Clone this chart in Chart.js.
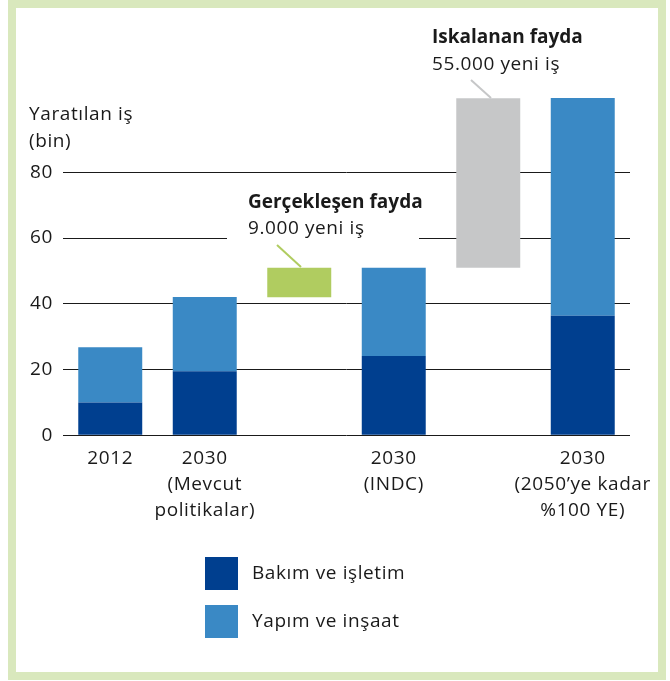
<!DOCTYPE html>
<html>
<head>
<meta charset="utf-8">
<script src="https://cdn.jsdelivr.net/npm/chart.js@4.4.1/dist/chart.umd.min.js"></script>
<style>
  html, body { margin: 0; padding: 0; background: #ffffff; }
  #wrap { width: 670px; height: 681px; position: relative; }
  canvas { display: block; }
</style>
</head>
<body>
<div id="wrap"><canvas id="c" width="670" height="681"></canvas></div>
<script>
// ---- Data ----
const categories = [
  '2012',
  ['2030', '(Mevcut', 'politikalar)'],
  '',
  ['2030', '(INDC)'],
  '',
  ['2030', '(2050\u2019ye kadar', '%100 YE)']
];
const maintenance  = [10, 19.5, null, 24.1, null, 36.4];   // Bakım ve işletim
const construction = [16.8, 22.6, null, 26.9, null, 66.2]; // Yapım ve inşaat
const benefitLow   = [null, null, 42, null, 51, null];     // floating bars: start
const benefitHigh  = [null, null, 51, null, 102.5, null];  // floating bars: end
const yTicks = [0, 20, 40, 60, 80];
const seriesNames = ['Bakım ve işletim', 'Yapım ve inşaat'];
const yTitle = ['Yaratılan iş', '(bin)'];
const annRealised = ['Gerçekleşen fayda', '9.000 yeni iş'];
const annMissed = ['Iskalanan fayda', '55.000 yeni iş'];

// ---- derived floating data ----
const darkData = maintenance.map(v => v == null ? null : [0, v]);
const lightData = maintenance.map((v, i) => v == null ? null : [v, v + construction[i]]);
const floatData = benefitLow.map((v, i) => v == null ? null : [v, benefitHigh[i]]);

const C_DARK = '#003f8f';
const C_LIGHT = '#3a89c5';
const C_GREEN = '#b0cc60';
const C_GRAY = '#c6c7c8';
const C_FRAME = '#d9e8bd';
const C_TEXT = '#1a1a1a';
const FONT = '"Open Sans", sans-serif';
const LS = '0.6px';

const decor = {
  id: 'decor',
  beforeInit(chart) { chart.ctx.letterSpacing = LS; },
  beforeDraw(chart) {
    const ctx = chart.ctx;
    ctx.letterSpacing = LS;
    ctx.save();
    ctx.fillStyle = '#ffffff';
    ctx.fillRect(0, 0, chart.width, chart.height);
    ctx.fillStyle = C_FRAME;
    ctx.fillRect(8, 0, 658, 680);
    ctx.fillStyle = '#ffffff';
    ctx.fillRect(16, 8, 642, 664);
    ctx.restore();
  },
  beforeDatasetsDraw(chart) {
    // gap in the 60 gridline behind the "Gerçekleşen fayda" note
    const ctx = chart.ctx;
    const y = chart.scales.y.getPixelForValue(60);
    ctx.save();
    ctx.fillStyle = '#ffffff';
    ctx.fillRect(227, y - 2, 192, 4);
    ctx.restore();
  },
  afterDatasetsDraw(chart) {
    const ctx = chart.ctx;
    ctx.save();
    ctx.fillStyle = C_TEXT;
    ctx.textBaseline = 'alphabetic';
    ctx.textAlign = 'left';
    // y title
    ctx.letterSpacing = LS;
    ctx.font = '19px ' + FONT;
    ctx.fillText(yTitle[0], 29, 120);
    ctx.fillText(yTitle[1], 29, 147);
    // annotations
    ctx.letterSpacing = '0px';
    ctx.font = 'bold 19px ' + FONT;
    ctx.fillText(annRealised[0], 248, 208);
    ctx.fillText(annMissed[0], 432, 43);
    ctx.letterSpacing = LS;
    ctx.font = '19px ' + FONT;
    ctx.fillText(annRealised[1], 248, 234);
    ctx.fillText(annMissed[1], 432, 70);
    // connectors
    ctx.lineWidth = 2;
    ctx.strokeStyle = C_GREEN;
    ctx.beginPath(); ctx.moveTo(277, 245); ctx.lineTo(301, 267); ctx.stroke();
    ctx.strokeStyle = C_GRAY;
    ctx.beginPath(); ctx.moveTo(471, 80); ctx.lineTo(491, 98); ctx.stroke();
    // legend
    const ds = chart.data.datasets;
    const items = [{y: 557, c: ds[0].backgroundColor, t: ds[0].label},
                   {y: 605, c: ds[1].backgroundColor, t: ds[1].label}];
    ctx.font = '19px ' + FONT;
    ctx.textBaseline = 'middle';
    items.forEach(it => {
      ctx.fillStyle = it.c;
      ctx.fillRect(205, it.y, 33, 33);
      ctx.fillStyle = C_TEXT;
      ctx.fillText(it.t, 252, it.y + 17);
    });
    ctx.restore();
  }
};

new Chart(document.getElementById('c'), {
  type: 'bar',
  data: {
    labels: categories,
    datasets: [
      { label: seriesNames[0], data: darkData, backgroundColor: C_DARK, borderWidth: 0 },
      { label: seriesNames[1], data: lightData, backgroundColor: C_LIGHT, borderWidth: 0 },
      { label: 'fayda', data: floatData, backgroundColor: [null, null, C_GREEN, null, C_GRAY, null], borderWidth: 0 }
    ]
  },
  plugins: [decor],
  options: {
    responsive: false,
    animation: false,
    devicePixelRatio: 1,
    categoryPercentage: 1,
    barPercentage: 0.677,
    layout: { padding: { left: 0, right: 40, top: 73.7, bottom: 0 } },
    plugins: { legend: { display: false }, tooltip: { enabled: false } },
    scales: {
      x: {
        stacked: true,
        grid: { display: false },
        border: { display: false },
        ticks: {
          color: C_TEXT,
          font: { family: FONT, size: 19, lineHeight: '26px' },
          padding: 2,
          maxRotation: 0,
          autoSkip: false
        },
        afterFit(scale) { scale.height = 681 - 435.3; }
      },
      y: {
        min: 0,
        max: 110,
        border: { display: false },
        grid: { color: C_TEXT, lineWidth: 1, drawTicks: false },
        afterBuildTicks(scale) { scale.ticks = yTicks.map(v => ({ value: v })); },
        ticks: {
          color: C_TEXT,
          font: { family: FONT, size: 19 },
          padding: 10
        },
        afterFit(scale) { scale.width = 63; }
      }
    }
  }
});
</script>
</body>
</html>
